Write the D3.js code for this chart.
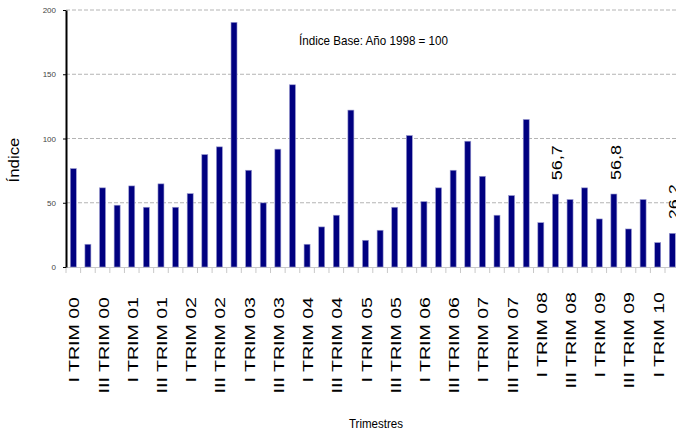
<!DOCTYPE html>
<html>
<head>
<meta charset="utf-8">
<script src="https://cdn.jsdelivr.net/npm/d3@7"></script>
<style>
  body { margin: 0; background: #fff; }
  svg { display: block; }
</style>
</head>
<body>
<svg id="chart" width="676" height="432"></svg>
<script>
// quarters I 2000 .. II 2010
const romans = ['I', 'II', 'III', 'IV'];
const years = ['00', '01', '02', '03', '04', '05', '06', '07', '08', '09', '10'];
const quarters = [];
years.forEach(y => romans.forEach(r => quarters.push(`${r} TRIM ${y}`)));
quarters.splice(42);

const values = [
  76.6, 17.7, 61.6, 48.1, 63.1, 46.5, 64.7, 46.5, 57.1, 87.5,
  93.5, 190.4, 75.3, 49.9, 91.7, 141.8, 17.7, 31.2, 40.3, 122.1,
  20.8, 28.6, 46.5, 102.3, 50.9, 61.6, 75.3, 97.9, 70.6, 40.3,
  55.6, 114.8, 34.5, 56.7, 52.5, 61.6, 37.4, 56.8, 29.6, 52.5,
  19.0, 26.2
];
const labelled = ['II TRIM 08', 'II TRIM 09', 'II TRIM 10'];
const yTicks = [0, 50, 100, 150, 200];

const svg = d3.select('#chart');
const plotLeft = 66, plotRight = 676, plotTop = 10, plotBottom = 267;

const xScale = d3.scaleBand()
  .domain(quarters)
  .range([plotLeft, plotLeft + 14.61 * quarters.length])
  .paddingInner(0.59)
  .paddingOuter(0.295);

const yScale = d3.scaleLinear()
  .domain([0, 200])
  .range([plotBottom, plotTop]);

// gridlines
svg.append('g')
  .selectAll('line')
  .data(yTicks.filter(d => d > 0))
  .join('line')
  .attr('x1', plotLeft)
  .attr('x2', plotRight)
  .attr('y1', d => yScale(d))
  .attr('y2', d => yScale(d))
  .attr('stroke', '#b4b4b4')
  .attr('stroke-width', 1)
  .attr('stroke-dasharray', '4,2');

// x axis line + ticks at category boundaries
const xg = svg.append('g');
xg.append('line')
  .attr('x1', plotLeft).attr('x2', plotRight)
  .attr('y1', plotBottom + 0.5).attr('y2', plotBottom + 0.5)
  .attr('stroke', '#c8c8c8');
xg.selectAll('line.tick')
  .data(quarters)
  .join('line')
  .attr('class', 'tick')
  .attr('x1', d => xScale(d) - xScale.step() * 0.295)
  .attr('x2', d => xScale(d) - xScale.step() * 0.295)
  .attr('y1', plotBottom)
  .attr('y2', plotBottom + 6)
  .attr('stroke', '#c8c8c8');

// bars
svg.append('g')
  .selectAll('rect')
  .data(values)
  .join('rect')
  .attr('x', (d, i) => xScale(quarters[i]))
  .attr('y', d => yScale(d))
  .attr('width', xScale.bandwidth())
  .attr('height', d => plotBottom - yScale(d))
  .attr('fill', '#000080')
  .attr('stroke', '#9a9ad0')
  .attr('stroke-width', 0.6);

// y axis
const yAxis = d3.axisLeft(yScale)
  .tickValues(yTicks)
  .tickSize(3)
  .tickSizeOuter(0);
const yg = svg.append('g')
  .attr('transform', `translate(${plotLeft},0)`)
  .call(yAxis);
yg.select('.domain').attr('stroke', '#000').attr('stroke-width', 2);
yg.selectAll('.tick line').attr('stroke', '#000');
yg.selectAll('.tick text')
  .attr('x', -10)
  .attr('fill', '#444')
  .style('font-family', '"Liberation Sans Narrow", "Liberation Sans", Arial, sans-serif')
  .style('font-size', '8px');

// x tick labels (every other quarter), wide lettering
svg.append('g')
  .selectAll('text')
  .data(quarters.filter((d, i) => i % 2 === 0))
  .join('text')
  .attr('transform', (d, i) => {
    const x = xScale(d) + xScale.bandwidth() / 2 + 6;
    const y = i * 2 >= 32 ? 292 : 297;
    return `translate(${x},${y}) rotate(-90) scale(1.4,1)`;
  })
  .attr('text-anchor', 'end')
  .style('font-family', '"Liberation Sans", Arial, sans-serif')
  .style('font-size', '14px')
  .attr('fill', '#000')
  .text(d => d);

// value labels
svg.append('g')
  .selectAll('text')
  .data(labelled)
  .join('text')
  .attr('transform', d => {
    const i = quarters.indexOf(d);
    const x = xScale(d) + xScale.bandwidth() / 2 + 7;
    const y = yScale(values[i]) - 14;
    return `translate(${x},${y}) rotate(-90) scale(1.2,1)`;
  })
  .attr('text-anchor', 'start')
  .style('font-family', '"Liberation Sans", Arial, sans-serif')
  .style('font-size', '15px')
  .text(d => d3.format('.1f')(values[quarters.indexOf(d)]).replace('.', ','));

// axis titles
svg.append('text')
  .attr('transform', 'translate(19,160) rotate(-90) scale(1.2,1)')
  .attr('text-anchor', 'middle')
  .style('font-family', '"Liberation Sans", Arial, sans-serif')
  .style('font-size', '14px')
  .text('Índice');

svg.append('text')
  .attr('x', 376)
  .attr('y', 428)
  .attr('text-anchor', 'middle')
  .attr('textLength', 54)
  .attr('lengthAdjust', 'spacingAndGlyphs')
  .style('font-family', '"Liberation Sans Narrow", "Liberation Sans", Arial, sans-serif')
  .style('font-size', '13px')
  .text('Trimestres');

svg.append('text')
  .attr('x', 299)
  .attr('y', 45)
  .attr('textLength', 149)
  .attr('lengthAdjust', 'spacingAndGlyphs')
  .style('font-family', '"Liberation Sans Narrow", "Liberation Sans", Arial, sans-serif')
  .style('font-size', '13px')
  .text('Índice Base: Año 1998 = 100');
</script>
</body>
</html>
